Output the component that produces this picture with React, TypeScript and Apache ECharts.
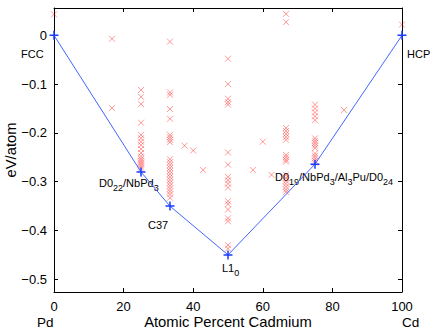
import React, { useEffect, useRef } from 'react';
import * as echarts from 'echarts';

const xTicks = [0, 20, 40, 60, 80, 100];
const yTicks = [0, -0.1, -0.2, -0.3, -0.4, -0.5];

// Compositions (atomic percent Cd) of computed structures
const compositions = [0, 16.67, 25, 33.33, 37.5, 40, 42.86, 50, 57.14, 60, 62.5, 66.67, 75, 83.33, 100];
// Formation energies (eV/atom) of the structures at each composition
const energies: number[][] = [
  [0.043],
  [-0.007, -0.149],
  [-0.112, -0.126, -0.141, -0.179, -0.204, -0.211, -0.218, -0.225, -0.233, -0.241, -0.248, -0.253, -0.257, -0.261, -0.265, -0.269, -0.273],
  [-0.013, -0.117, -0.122, -0.151, -0.171, -0.204, -0.209, -0.214, -0.219, -0.254, -0.26, -0.266, -0.272, -0.278, -0.284, -0.29, -0.296, -0.302, -0.308, -0.314, -0.32, -0.326, -0.333],
  [-0.226],
  [-0.236],
  [-0.276],
  [-0.048, -0.1, -0.13, -0.137, -0.142, -0.24, -0.265, -0.29, -0.297, -0.304, -0.312, -0.34, -0.346, -0.357, -0.375, -0.381, -0.43, -0.437],
  [-0.276],
  [-0.218],
  [-0.286],
  [0.044, 0.027, -0.19, -0.196, -0.202, -0.208, -0.214, -0.245, -0.25, -0.255, -0.259, -0.286, -0.292, -0.298, -0.304, -0.31, -0.316, -0.321],
  [-0.142, -0.15, -0.158, -0.166, -0.174, -0.211, -0.216, -0.221, -0.226, -0.231, -0.242, -0.247, -0.252, -0.257, -0.261],
  [-0.153],
  [0.022],
];

// Convex hull
const hullX = [0, 25, 33.33, 50, 75, 100];
const hullE = [0, -0.28, -0.35, -0.45, -0.264, 0];

const FONT = '"Liberation Sans", Arial, Helvetica, sans-serif';

export default function App() {
  const ref = useRef<HTMLDivElement>(null);
  useEffect(() => {
    const chart = echarts.init(ref.current!, null, { renderer: 'svg' });
    const points: number[][] = [];
    compositions.forEach((c, i) => energies[i].forEach((e) => points.push([c, e])));
    const hull = hullX.map((x, i) => [x, hullE[i]]);

    const axisLine = { show: true, onZero: false, lineStyle: { color: '#000', width: 1 } };
    const axisTick = { show: true, inside: true, length: 4, lineStyle: { color: '#000', width: 1 } };
    const rich = {
      m: { fontSize: 11, lineHeight: 13, fontFamily: FONT, color: '#000' },
      s: { fontSize: 9, lineHeight: 8, padding: [10, 0, 0, 0], fontFamily: FONT, color: '#000' },
    };
    const label = (text: string, x: number, y: number, size = 11, extra: any = {}) => ({
      type: 'text',
      x,
      y,
      ...extra,
      style: { text, fontSize: size, fontFamily: FONT, fill: '#000', verticalAlign: 'middle', align: 'left', ...(extra.style || {}) },
    });
    const richLabel = (text: string, x: number, y: number) => ({
      type: 'text',
      x,
      y,
      style: { text, rich, fontSize: 11, fontFamily: FONT, fill: '#000', verticalAlign: 'top', align: 'left' },
    });

    chart.setOption({
      animation: false,
      backgroundColor: '#fff',
      grid: { left: 54, right: 34, top: 8, bottom: 38 },
      xAxis: [
        {
          type: 'value', min: 0, max: 100, interval: 20, position: 'bottom',
          axisLine, axisTick,
          axisLabel: { color: '#000', fontSize: 13, fontFamily: FONT, margin: 8, formatter: (v: number) => String(v) },
          splitLine: { show: false },
        },
        {
          type: 'value', min: 0, max: 100, interval: 20, position: 'top',
          axisLine, axisTick, axisLabel: { show: false }, splitLine: { show: false },
        },
      ],
      yAxis: [
        {
          type: 'value', min: -0.526, max: 0.056, position: 'left',
          axisLine,
          axisTick: { ...axisTick, customValues: yTicks },
          axisLabel: {
            color: '#000', fontSize: 13, fontFamily: FONT, margin: 7, customValues: yTicks,
            formatter: (v: number) => (Math.abs(v) < 1e-9 ? '0' : '\u2212' + Math.abs(v).toFixed(1)),
          },
          splitLine: { show: false },
        },
        {
          type: 'value', min: -0.526, max: 0.056, position: 'right',
          axisLine,
          axisTick: { ...axisTick, customValues: yTicks },
          axisLabel: { show: false },
          splitLine: { show: false },
        },
      ],
      series: [
        {
          type: 'scatter',
          data: points,
          symbol: 'path://M0,0L10,10M10,0L0,10',
          symbolSize: 6,
          itemStyle: { color: 'transparent', borderColor: 'rgba(255,0,0,0.5)', borderWidth: 1 },
          z: 2,
        },
        {
          type: 'line',
          data: hull,
          symbol: 'path://M5,0L5,10M0,5L10,5',
          symbolSize: 9,
          showSymbol: true,
          lineStyle: { color: '#4466ff', width: 1 },
          itemStyle: { color: '#1a3cff', borderColor: '#1a3cff', borderWidth: 1.5 },
          z: 3,
        },
      ],
      graphic: [
        label('FCC', 21, 54),
        label('HCP', 407, 54),
        label('Pd', 37, 322, 13.5),
        label('Cd', 402, 322, 13.5),
        label('Atomic Percent Cadmium', 228, 322, 14.8, { style: { align: 'center' } }),
        label('eV/atom', 11, 150, 14.8, { rotation: Math.PI / 2, style: { align: 'center' } }),
        label('C37', 148, 225),
        richLabel('{m|D0}{s|22}{m|/NbPd}{s|3}', 99, 176),
        richLabel('{m|L1}{s|0}', 222, 261),
        richLabel('{m|D0}{s|19}{m|/NbPd}{s|3}{m|/Al}{s|3}{m|Pu/D0}{s|24}', 275, 170),
      ],
    });
    return () => chart.dispose();
  }, []);
  return (
    <div
      ref={ref}
      style={{ position: 'fixed', left: 0, top: 0, width: 436, height: 330, background: '#fff' }}
    />
  );
}
